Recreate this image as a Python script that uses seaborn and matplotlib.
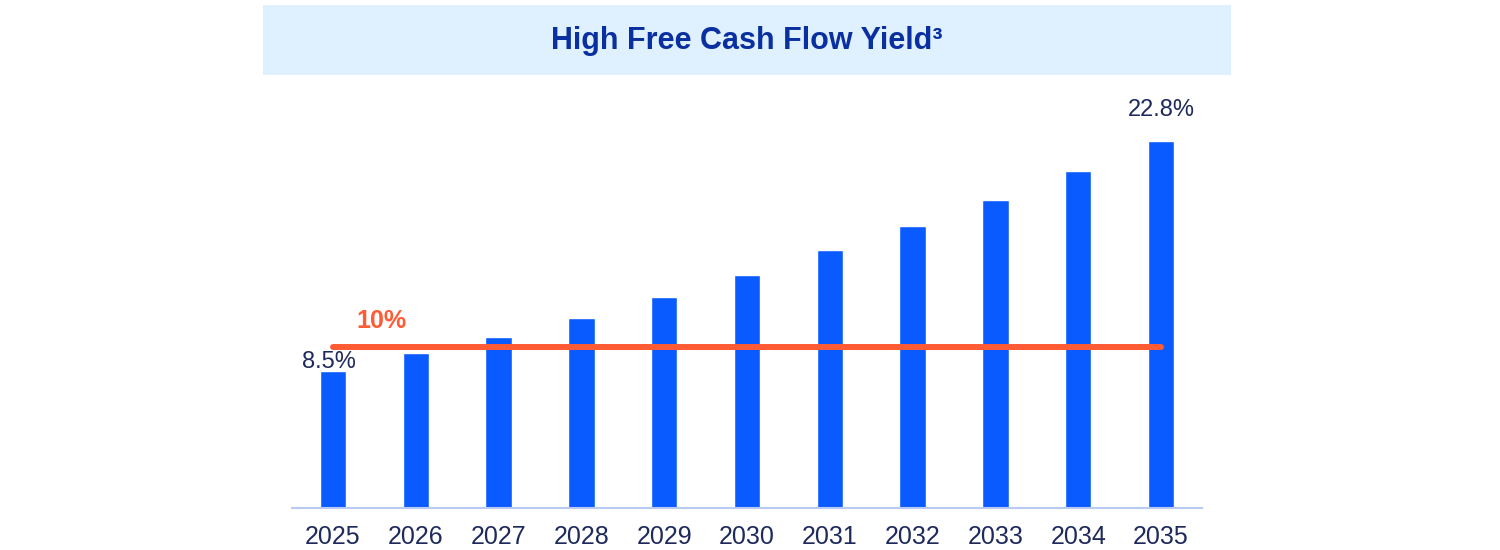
import matplotlib
matplotlib.use("Agg")
import matplotlib.pyplot as plt
import pandas as pd
import seaborn as sns
from matplotlib.patches import Rectangle

# chart data
years = ["2025", "2026", "2027", "2028", "2029", "2030", "2031", "2032", "2033", "2034", "2035"]
yield_pct = [8.5, 9.6, 10.6, 11.8, 13.1, 14.5, 16.0, 17.5, 19.1, 20.9, 22.8]
target_pct = 10
labelled = {"2025": "8.5%", "2035": "22.8%"}

df = pd.DataFrame({"year": years, "fcf_yield": yield_pct})

sns.set_theme(style="white")
plt.rcParams["font.family"] = ["Liberation Sans", "DejaVu Sans"]

BAR = "#0A5BFF"
ORANGE = "#FF5B35"
NAVY = "#1E2A5C"
TITLE_BLUE = "#0A2FA0"

fig = plt.figure(figsize=(15, 5.5), dpi=100)
ax = fig.add_axes([0.1944, 0.0764, 0.6072, 0.7318])

sns.barplot(data=df, x="year", y="fcf_yield", color=BAR, width=0.32,
            saturation=1, ax=ax)

ax.set_xlim(-0.5, len(years) - 0.5)
ax.set_ylim(0, 25)

# 10% hurdle line
ax.plot([0, len(years) - 1], [target_pct, target_pct], color=ORANGE, lw=4.3,
        solid_capstyle="round", zorder=3)
ax.annotate(f"{target_pct}%", (0.28, target_pct), xytext=(0, 14),
            textcoords="offset points", ha="left", va="baseline",
            color=ORANGE, fontsize=18, fontweight="bold", zorder=4)

# end labels
for i, yr in enumerate(years):
    if yr in labelled:
        off = 2 if i == 0 else 18
        ax.annotate(labelled[yr], (i, yield_pct[i]), xytext=(-3 if i == 0 else 0, off),
                    textcoords="offset points", ha="center", va="baseline",
                    fontsize=17, color=NAVY, zorder=5)

# axes styling
for s in ["top", "right", "left"]:
    ax.spines[s].set_visible(False)
ax.spines["bottom"].set_color("#B9CBF4")
ax.spines["bottom"].set_linewidth(1.5)
ax.set_yticks([])
ax.set_xlabel("")
ax.set_ylabel("")
ax.tick_params(axis="x", length=0, pad=12, labelsize=18, labelcolor=NAVY)

# title banner
fig.patches.append(Rectangle((263 / 1500, 1 - 75 / 550), (1231 - 263) / 1500, 70 / 550,
                             transform=fig.transFigure, facecolor="#DFF0FE",
                             edgecolor="none", zorder=0))
fig.text(747 / 1500, 1 - 41 / 550, "High Free Cash Flow Yield³", ha="center",
         va="center", fontsize=22, fontweight="bold", color=TITLE_BLUE)

fig.savefig("out.png", dpi=100)
